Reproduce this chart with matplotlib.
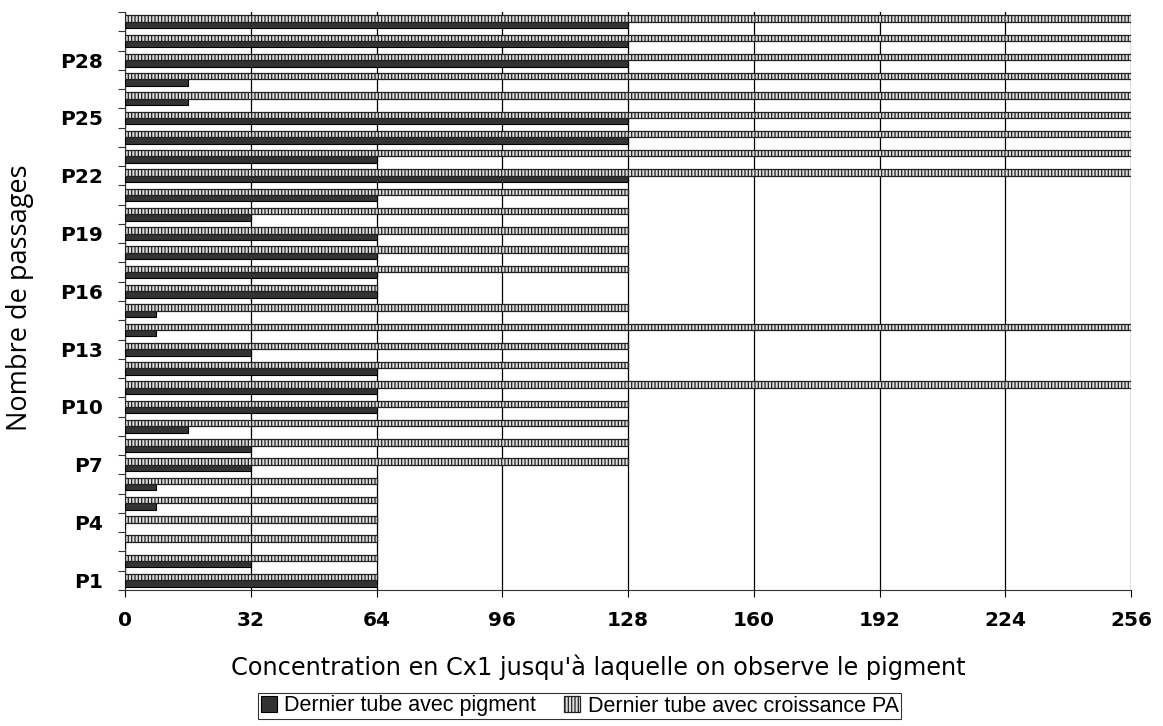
import numpy as np
import matplotlib
matplotlib.use("Agg")
import matplotlib.pyplot as plt

# -----------------------------
# Données
# -----------------------------
passages = ["P%d" % i for i in range(1, 31)]
pigment = [64, 32, 0, 0, 8, 8, 32, 32, 16, 64,
           64, 64, 32, 8, 8, 64, 64, 64, 64, 32,
           64, 128, 64, 128, 128, 16, 16, 128, 128, 128]
croissance = [64, 64, 64, 64, 64, 64, 128, 128, 128, 128,
              256, 128, 128, 256, 128, 64, 128, 128, 128, 128,
              128, 256, 256, 256, 256, 256, 256, 256, 256, 256]
xticks = [0, 32, 64, 96, 128, 160, 192, 224, 256]

# -----------------------------
# Figure
# -----------------------------
plt.rcParams["hatch.linewidth"] = 0.9
fig = plt.figure(figsize=(11.63, 7.26), dpi=100)
ax = fig.add_axes([0.1075, 0.1873, 0.865, 0.7962])

y = np.arange(len(passages))
h = 0.33
ax.barh(y - h / 2, pigment, height=h, color="#333333", edgecolor="black",
        linewidth=0.8, label="Dernier tube avec pigment", zorder=3)
ax.barh(y + h / 2, croissance, height=h, color="#dddddd", edgecolor="#222222",
        hatch="|||||", linewidth=0.9, label="Dernier tube avec croissance PA",
        zorder=3)

ax.set_xlim(0, 256)
ax.set_ylim(-0.5, len(passages) - 0.5)
ax.set_xticks(xticks)
ax.set_xticklabels([str(v) for v in xticks], fontsize=14.5, fontweight="bold")
ax.tick_params(axis="x", length=5, width=0.8, pad=10)

# étiquettes tous les 3 passages, traits entre catégories
ax.set_yticks(y[::3])
ax.set_yticklabels(passages[::3], fontsize=14.5, fontweight="bold")
ax.set_yticks(np.arange(-0.5, len(passages), 1), minor=True)
ax.tick_params(axis="y", which="major", length=0, pad=16)
ax.tick_params(axis="y", which="minor", length=5, width=0.8, color="#333333")

ax.xaxis.grid(True, color="black", linewidth=0.9, zorder=0)
ax.set_axisbelow(True)
for s in ["top", "right"]:
    ax.spines[s].set_visible(False)
ax.spines["left"].set_color("#333333")
ax.spines["bottom"].set_color("#333333")

ax.set_xlabel("Concentration en Cx1 jusqu'à laquelle on observe le pigment",
              fontsize=17.3, family="DejaVu Sans")
ax.xaxis.set_label_coords(0.470, -0.112)
ax.set_ylabel("Nombre de passages", fontsize=19.5, family="Open Sans")
ax.yaxis.set_label_coords(-0.0905, 0.505)

leg = fig.legend(loc="center", bbox_to_anchor=(0.4985, 1 - 706 / 726),
                 ncol=2, prop={"family": "Liberation Sans", "size": 15.5},
                 frameon=True, fancybox=False, edgecolor="black",
                 handlelength=0.75, handleheight=0.75, handletextpad=0.35,
                 columnspacing=1.3, borderpad=0.12, borderaxespad=0)
leg.get_frame().set_linewidth(0.8)

plt.savefig("out.png", dpi=100)
